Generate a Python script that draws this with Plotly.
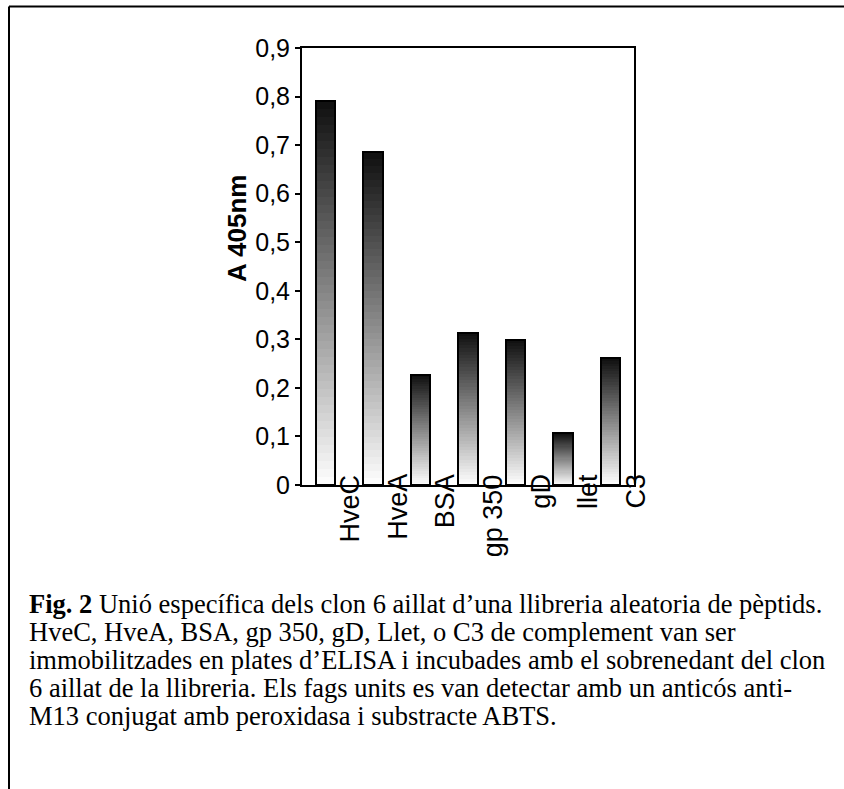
import plotly.graph_objects as go

# ELISA absorbance readings (A 405nm) for each immobilised target
categories = ["HveC", "HveA", "BSA", "gp 350", "gD", "llet", "C3"]
absorbance = [0.79, 0.685, 0.227, 0.314, 0.298, 0.107, 0.261]
y_tick_vals = [0, 0.1, 0.2, 0.3, 0.4, 0.5, 0.6, 0.7, 0.8, 0.9]
y_tick_text = ["0", "0,1", "0,2", "0,3", "0,4", "0,5", "0,6", "0,7", "0,8", "0,9"]
caption_lines = [
    "<b>Fig. 2</b> Unió específica dels clon 6 aillat d’una llibreria aleatoria de pèptids.",
    "HveC, HveA, BSA, gp 350, gD, Llet, o C3 de complement van ser",
    "immobilitzades en plates d’ELISA i incubades amb el sobrenedant del clon",
    "6 aillat de la llibreria. Els fags units es van detectar amb un anticós anti-",
    "M13 conjugat amb peroxidasa i substracte ABTS.",
]

W_FIG, H_FIG = 844, 789
L, R, T, B = 302, 634, 48, 485          # plot-area edges in pixels
PW, PH = R - L, B - T


def px_x(px):
    return (px - L) / PW


def px_y(py):
    return (B - py) / PH


SANS = "Liberation Sans, Arial, sans-serif"
SERIF = "Liberation Serif, Times New Roman, serif"

bar_x = [i + 0.5 for i in range(len(categories))]
bar_w = 0.41

fig = go.Figure()

# vertical grey gradient inside every bar: dark at the top, white at the base
n_steps = 48
for k in range(n_steps):
    frac = (k + 0.5) / n_steps              # 0 at base, 1 at top
    g = int(round(255 - frac * (255 - 14)))
    fig.add_trace(go.Bar(
        x=bar_x,
        y=[v / n_steps for v in absorbance],
        base=[v * k / n_steps for v in absorbance],
        width=bar_w,
        marker=dict(color=f"rgb({g},{g},{g})", line=dict(width=0)),
        hoverinfo="skip",
        showlegend=False,
    ))

# bar outlines
fig.add_trace(go.Bar(
    x=bar_x,
    y=absorbance,
    width=bar_w,
    marker=dict(color="rgba(0,0,0,0)", line=dict(color="black", width=2)),
    showlegend=False,
))

annotations = []
# category labels sit at the right edge of each category slot
for i, name in enumerate(categories):
    annotations.append(dict(
        x=i + 1, y=px_y(472), xref="x", yref="paper",
        text=name, textangle=-90, showarrow=False,
        xanchor="center", yanchor="top", xshift=1,
        font=dict(family=SANS, size=27, color="black"),
    ))

# y-axis title
annotations.append(dict(
    x=px_x(237), y=px_y(229), xref="paper", yref="paper",
    text="<b>A 405nm</b>", textangle=-90, showarrow=False,
    xanchor="center", yanchor="middle",
    font=dict(family=SANS, size=26, color="black"),
))

# caption below the chart
for j, line in enumerate(caption_lines):
    annotations.append(dict(
        x=px_x(27), y=px_y(604 + 28 * j), xref="paper", yref="paper",
        text=line, showarrow=False, xanchor="left", yanchor="middle",
        align="left",
        font=dict(family=SERIF, size=26.5, color="black"),
    ))

# frame lines around the figure panel
shapes = [
    dict(type="line", xref="paper", yref="paper",
         x0=px_x(9), x1=px_x(850), y0=px_y(6.5), y1=px_y(6.5),
         line=dict(color="black", width=2)),
    dict(type="line", xref="paper", yref="paper",
         x0=px_x(9), x1=px_x(9), y0=px_y(6.5), y1=px_y(800),
         line=dict(color="black", width=2)),
]

fig.update_layout(
    width=W_FIG, height=H_FIG,
    margin=dict(l=L, r=W_FIG - R, t=T, b=H_FIG - B, pad=0),
    paper_bgcolor="white", plot_bgcolor="white",
    barmode="overlay", bargap=0,
    showlegend=False,
    annotations=annotations,
    shapes=shapes,
    xaxis=dict(
        range=[0, 7], showticklabels=False, ticks="",
        showgrid=False, zeroline=False,
        showline=True, linecolor="black", linewidth=2, mirror=True,
        fixedrange=True,
    ),
    yaxis=dict(
        range=[0, 0.9], tickvals=y_tick_vals, ticktext=y_tick_text,
        ticks="outside", ticklen=5, tickwidth=2, tickcolor="black",
        tickfont=dict(family=SANS, size=25, color="black"),
        showgrid=False, zeroline=False,
        showline=True, linecolor="black", linewidth=2, mirror=True,
        fixedrange=True,
    ),
)

fig.write_html("out.html")
